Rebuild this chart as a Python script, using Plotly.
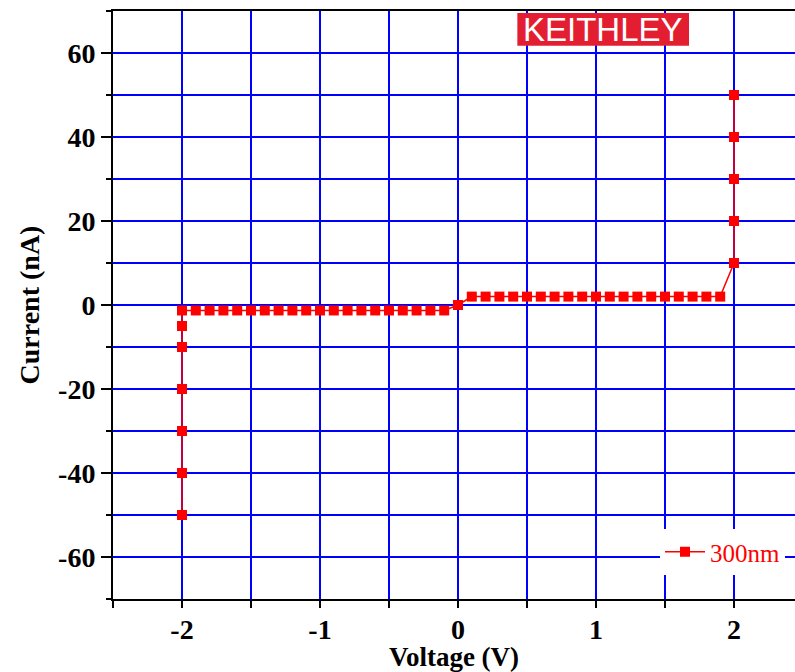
import plotly.graph_objects as go

# I-V sweep of the 300nm device (V in volts, I in nA)
volt_neg_vertical = [-2.0, -2.0, -2.0, -2.0, -2.0, -2.0]
curr_neg_vertical = [-50, -40, -30, -20, -10, -5]
volt_neg_row = [-2.0, -1.9, -1.8, -1.7, -1.6, -1.5, -1.4, -1.3, -1.2, -1.1, -1.0,
                -0.9, -0.8, -0.7, -0.6, -0.5, -0.4, -0.3, -0.2, -0.1]
curr_neg_row = [-1.3] * 20
volt_zero = [0.0]
curr_zero = [0.0]
volt_pos_row = [0.1, 0.2, 0.3, 0.4, 0.5, 0.6, 0.7, 0.8, 0.9, 1.0,
                1.1, 1.2, 1.3, 1.4, 1.5, 1.6, 1.7, 1.8, 1.9]
curr_pos_row = [2.0] * 19
volt_pos_vertical = [2.0, 2.0, 2.0, 2.0, 2.0]
curr_pos_vertical = [10, 20, 30, 40, 50]

x_tickvals = [-2, -1, 0, 1, 2]
x_ticktext = ["-2", "-1", "0", "1", "2"]
x_minorvals = [-2.5, -1.5, -0.5, 0.5, 1.5]
y_tickvals = [-60, -40, -20, 0, 20, 40, 60]
y_ticktext = ["-60", "-40", "-20", "0", "20", "40", "60"]
y_minorvals = [-70, -50, -30, -10, 10, 30, 50, 70]

series_name = "300nm"
brand_label = "KEITHLEY"

V = volt_neg_vertical + volt_neg_row + volt_zero + volt_pos_row + volt_pos_vertical
I = curr_neg_vertical + curr_neg_row + curr_zero + curr_pos_row + curr_pos_vertical

RED = "#ff0000"
BLUE = "#0000ff"
SERIF = "Liberation Serif, Times New Roman, serif"

fig = go.Figure()
fig.add_trace(go.Scatter(
    x=V, y=I, mode="lines+markers", name=series_name,
    line=dict(color=RED, width=1.5),
    marker=dict(symbol="square", size=10, color=RED),
))

axis_common = dict(
    showline=True, linecolor="black", linewidth=2,
    showgrid=True, gridcolor=BLUE, gridwidth=1.5,
    ticks="outside", tickcolor="black", tickwidth=1.5,
    zeroline=False,
    tickfont=dict(family=SERIF, size=28, color="black", weight="bold"),
)

fig.update_xaxes(
    **axis_common,
    range=[-2.5, -2.5 + 682 / 138],
    tickmode="array", tickvals=x_tickvals, ticktext=x_ticktext, ticklen=7,
    ticklabelstandoff=-3,
    minor=dict(tickmode="array", tickvals=x_minorvals, ticks="outside", ticklen=7,
               tickcolor="black", showgrid=True, gridcolor=BLUE, gridwidth=1.5),
    mirror=True,
    title=dict(text="Voltage (V)", font=dict(family=SERIF, size=27, color="black", weight="bold"),
               standoff=3),
)
fig.update_yaxes(
    **axis_common,
    range=[-70, 70],
    tickmode="array", tickvals=y_tickvals, ticktext=y_ticktext, ticklen=10,
    minor=dict(tickmode="array", tickvals=y_minorvals, ticks="outside", ticklen=5,
               tickcolor="black", showgrid=True, gridcolor=BLUE, gridwidth=1.5),
    title=dict(text="Current (nA)", font=dict(family=SERIF, size=28, color="black", weight="bold"),
               standoff=10),
)

# brand badge
fig.add_shape(type="rect", xref="x", yref="y", x0=0.43, x1=1.674, y0=61.7, y1=69.5,
              fillcolor="#e41e31", line=dict(width=0), layer="above")
fig.add_annotation(x=(0.43 + 1.674) / 2, y=65.6, xref="x", yref="y", text=brand_label,
                   showarrow=False, font=dict(family="Liberation Sans, Arial, sans-serif",
                                              size=33, color="white"))

fig.update_layout(
    width=795, height=672, autosize=False,
    margin=dict(l=113, r=0, t=11, b=73),
    paper_bgcolor="white", plot_bgcolor="white",
    showlegend=True,
    legend=dict(x=(785 - 113) / 682, y=(599 - 575) / 588, xanchor="right", yanchor="bottom",
                bgcolor="white", borderwidth=0,
                font=dict(family=SERIF, size=25, color=RED),
                itemwidth=40),
)

fig.write_html("out.html")
